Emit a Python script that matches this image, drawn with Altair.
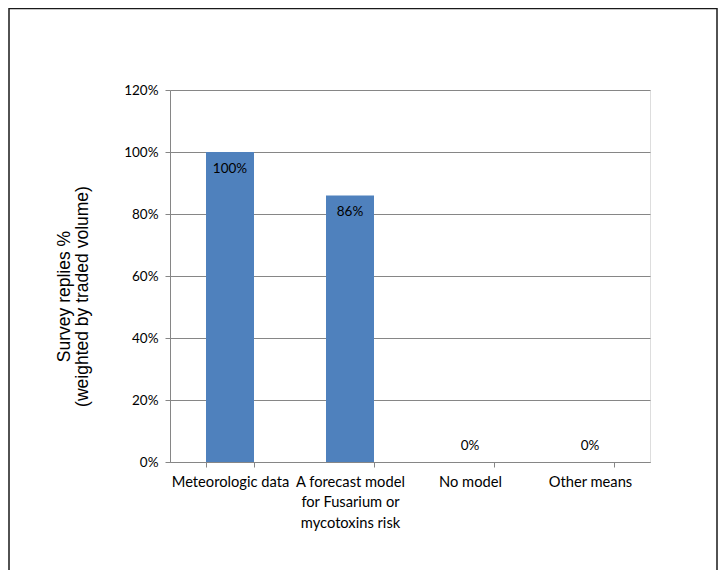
import altair as alt
import pandas as pd

categories = ["Meteorologic data", "A forecast model for Fusarium or mycotoxins risk", "No model", "Other means"]
label_lines = [["Meteorologic data"], ["A forecast model", "for Fusarium or", "mycotoxins risk"], ["No model"], ["Other means"]]
values = [1.00, 0.86, 0.00, 0.00]
y_ticks = [0, 0.2, 0.4, 0.6, 0.8, 1.0, 1.2]

df = pd.DataFrame({"category": categories, "value": values})

# build label expression for wrapped axis labels
expr = "datum.label"
for cat, lines in zip(categories, label_lines):
    if len(lines) > 1:
        arr = "[" + ",".join("'" + l + "'" for l in lines) + "]"
        expr = f"datum.label == '{cat}' ? {arr} : ({expr})"

x_enc = alt.X(
    "category:N",
    sort=categories,
    scale=alt.Scale(paddingInner=0.6, paddingOuter=0.3),
    axis=alt.Axis(
        title=None, labelAngle=0, labelExpr=expr, labelFont="Lato", labelFontSize=14.7,
        labelColor="#000", labelPadding=7, labelLineHeight=20.5, labelBaseline="top",
        tickBand="extent", tickSize=5, tickColor="#868686", domainColor="#868686",
        labelLimit=200,
    ),
)
y_enc = alt.Y(
    "value:Q",
    scale=alt.Scale(domain=[0, 1.2], nice=False),
    axis=alt.Axis(
        values=y_ticks, format=".0%", title=["Survey replies %", "(weighted by traded volume)"],
        titleFont="Liberation Sans", titleFontSize=17.5, titleFontWeight="normal", titleColor="#000",
        titlePadding=32, titleLineHeight=18, titleY=206,
        labelFont="Lato", labelFontSize=13.5, labelColor="#000", labelPadding=7,
        tickSize=5, tickColor="#868686", domainColor="#868686",
        gridColor="#868686", gridWidth=1,
    ),
)

bars = alt.Chart(df).mark_bar(color="#4F81BD").encode(x=x_enc, y=y_enc)

lab_pos = alt.Chart(df).transform_filter("datum.value > 0").mark_text(
    font="Lato", fontSize=13.5, color="#000", dy=17
).encode(x=alt.X("category:N", sort=categories), y="value:Q", text=alt.Text("value:Q", format=".0%"))

lab_zero = alt.Chart(df).transform_filter("datum.value == 0").mark_text(
    font="Lato", fontSize=13.5, color="#000", dy=-16
).encode(x=alt.X("category:N", sort=categories), y="value:Q", text=alt.Text("value:Q", format=".0%"))

frame = alt.Chart(alt.Data(values=[{}])).mark_rect(
    fill="white", fillOpacity=0, stroke="#1a1a1a", strokeWidth=1.5
).encode(x=alt.value(-161), x2=alt.value(547), y=alt.value(-81.5), y2=alt.value(520))

chart = alt.layer(frame, bars, lab_pos, lab_zero).properties(
    width=480, height=372,
    autosize="none",
    padding={"left": 162, "top": 82, "right": 68, "bottom": 108},
).configure_view(stroke=None).configure(background="white")

chart.save("out.html", embed_options={"renderer": "svg", "actions": False})
